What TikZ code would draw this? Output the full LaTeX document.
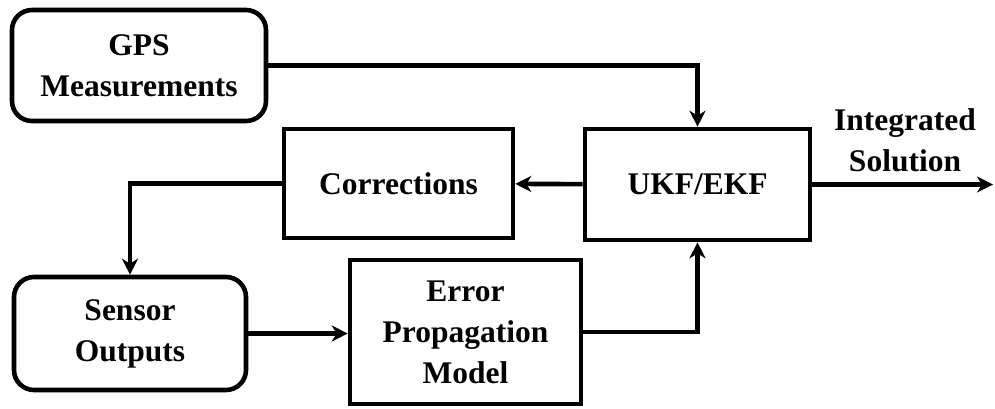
\documentclass[tikz,border=0pt]{standalone}
\usepackage{fontspec}
\setmainfont{Liberation Serif}
\usetikzlibrary{positioning, arrows.meta}

\begin{document}
\begin{tikzpicture}[
  x=0.5pt, y=-0.5pt,
  block/.style={draw=black, line width=2.3pt, align=center, inner sep=0pt,
                font=\fontsize{15.75}{20.5}\selectfont\bfseries},
  rblock/.style={block, rounded corners=10pt},
  lbl/.style={align=center, font=\fontsize{15.75}{20.5}\selectfont\bfseries},
  arr/.style={line width=2.3pt, -{Stealth[length=8pt, width=8pt, inset=2.5pt]}}
]
  \useasboundingbox (0,0) rectangle (995,408);

  \node[rblock, minimum width=127pt, minimum height=55.5pt] (gps) at (139,65.5)
    {GPS\\Measurements};
  \node[block, minimum width=114.5pt, minimum height=54.5pt] (corr) at (398.5,183.5)
    {Corrections};
  \node[block, minimum width=112.5pt, minimum height=55.5pt] (ukf) at (697.5,184.5)
    {UKF/EKF};
  \node[rblock, minimum width=116pt, minimum height=56.5pt] (sensor) at (130,333.5)
    {Sensor\\Outputs};
  \node[block, minimum width=115.5pt, minimum height=72pt] (err) at (465.5,332)
    {Error\\Propagation\\Model};

  \node[lbl] (sol) at (905,140) {Integrated\\Solution};
  \coordinate (out) at (993,184.5);

  % Connections
  \draw[arr] (gps.east) -| (ukf.north);
  \draw[arr] (ukf) -- (corr);
  \draw[arr] (corr.west) -| (sensor.north);
  \draw[arr] (sensor.east) -- (sensor.east -| err.west);
  \draw[arr] (err.east) -| (ukf.south);
  \draw[arr] (ukf) -- (out);

\end{tikzpicture}
\end{document}
